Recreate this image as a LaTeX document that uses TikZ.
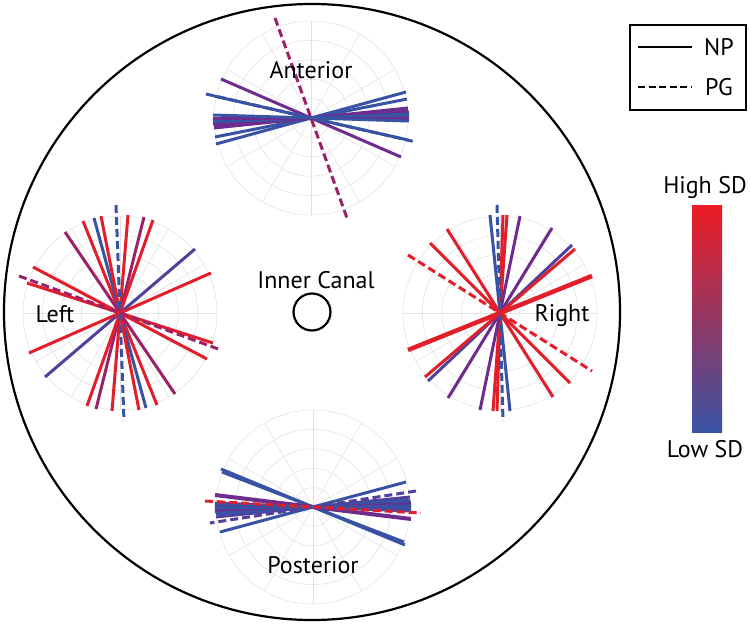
\documentclass[tikz,border=0pt]{standalone}
\usepackage{fontspec}
\setmainfont{PT Sans}
\usetikzlibrary{calc}
\definecolor{cR}{HTML}{E31E2B}
\definecolor{cM}{HTML}{9B2268}
\definecolor{cP}{HTML}{6E2C8E}
\definecolor{cBP}{HTML}{51409C}
\definecolor{cB}{HTML}{3953A4}
\definecolor{barTop}{HTML}{ED1C24}
\definecolor{barBot}{HTML}{3953A4}
\newcommand\polargrid{%
  \foreach \r in {19.4,38.8,58.2,77.6,97} \draw[gridline] (0,0) circle[radius=\r];
  \foreach \a in {0,30,...,330} \draw[gridline] (0,0) -- (\a:97);}
\newcommand\dl[4]{\draw[#1,draw=#2] (#3,#4) -- ($(0,0)!-1!(#3,#4)$);}
\begin{document}
\begin{tikzpicture}[x=1pt,y=-1pt,
  np/.style={line width=3pt},
  pg/.style={line width=3pt,dash pattern=on 8pt off 4pt},
  gridline/.style={draw=black!12,line width=0.5pt},
  lbl/.style={font=\fontsize{24}{28}\selectfont,inner sep=0pt}]
\useasboundingbox (0,0) rectangle (750,624);
\fill[white] (0,0) rectangle (750,624);
% outer circle and inner canal
\coordinate (O) at (312,312);
\draw[line width=2.2pt] (O) circle[radius=308];
\draw[line width=2.2pt] (O) circle[radius=18.5];
\node[lbl] (canal) at (316,280) {Inner Canal};
% Anterior
\begin{scope}[shift={(311,118)}]
\polargrid
\dl{np}{cP}{-90}{-39}
\dl{np}{cB}{-97}{-22}
\dl{pg}{cB}{-105}{-24}
\dl{np}{cB}{95}{-26}
\dl{np}{cB}{96}{-19}
\dl{np}{cP}{97}{-10}
\dl{np}{cP}{97}{-8}
\dl{np}{cP}{98}{-6}
\dl{np}{cB}{98}{-4}
\dl{np}{cB}{98}{-2}
\dl{np}{cP}{98}{0}
\dl{np}{cB}{98}{3}
\dl{pg}{cM}{-36}{-100}
\end{scope}
\node[lbl] (ant) at (311,70) {Anterior};
% Left
\begin{scope}[shift={(120,313)}]
\polargrid
\dl{np}{cR}{-37}{-92}
\dl{np}{cB}{-26}{-95}
\dl{np}{cR}{-19}{-97}
\dl{np}{cR}{8}{-98}
\dl{np}{cM}{24}{-96}
\dl{np}{cR}{33}{-93}
\dl{np}{cM}{-55}{-81}
\dl{np}{cBP}{75}{-64}
\dl{np}{cR}{91}{-40}
\dl{np}{cR}{-87}{-46}
\dl{np}{cR}{-93}{-30}
\dl{pg}{cB}{-4}{-108}
\dl{pg}{cM}{-101}{-37}
\end{scope}
\node[lbl] (left) at (55,314) {Left};
% Right
\begin{scope}[shift={(500,313)}]
\polargrid
\dl{np}{cB}{-10}{-98}
\dl{np}{cR}{3}{-98}
\dl{np}{cR}{7}{-98}
\dl{np}{cP}{20}{-97}
\dl{np}{cP}{52}{-85}
\dl{np}{cBP}{72}{-68}
\dl{np}{cR}{75}{-64}
\dl{np,line width=4.5pt}{cR}{92}{-37}
\dl{np}{cR}{-53}{-84}
\dl{np}{cR}{-70}{-70}
\dl{pg}{cB}{-3}{-108}
\dl{pg}{cR}{-92}{-58}
\end{scope}
\node[lbl] (right) at (562,316) {Right};
% Posterior
\begin{scope}[shift={(313,507)}]
\polargrid
\dl{np}{cB}{-92}{-38}
\dl{np}{cB}{-91}{-35}
\dl{np}{cB}{93}{-25}
\dl{np,line width=4pt}{cP}{-98}{-12}
\dl{np}{cBP}{97}{-10}
\dl{np}{cB}{97}{-7}
\dl{np}{cB}{98}{-5}
\dl{np}{cP}{98}{-3}
\dl{np}{cB}{98}{-1}
\dl{np}{cB}{98}{1}
\dl{np}{cBP}{98}{3}
\dl{np}{cB}{98}{4}
\dl{pg}{cBP}{103}{-16}
\dl{pg}{cR}{-108}{-6}
\end{scope}
\node[lbl] (post) at (313,565) {Posterior};
% legend
\draw[line width=1.1pt] (630,25) rectangle (746,110);
\draw[line width=2pt] (638,47) -- (692,47);
\node[lbl] (np) at (719,47) {NP};
\draw[line width=2pt,dash pattern=on 7pt off 3.5pt] (638,87) -- (692,87);
\node[lbl] (pg) at (719,87) {PG};
% colour bar
\shade[top color=barTop,bottom color=barBot] (692,205) rectangle (722,432);
\node[lbl] (high) at (705,187) {High SD};
\node[lbl] (low) at (705,449) {Low SD};
\end{tikzpicture}
\end{document}
